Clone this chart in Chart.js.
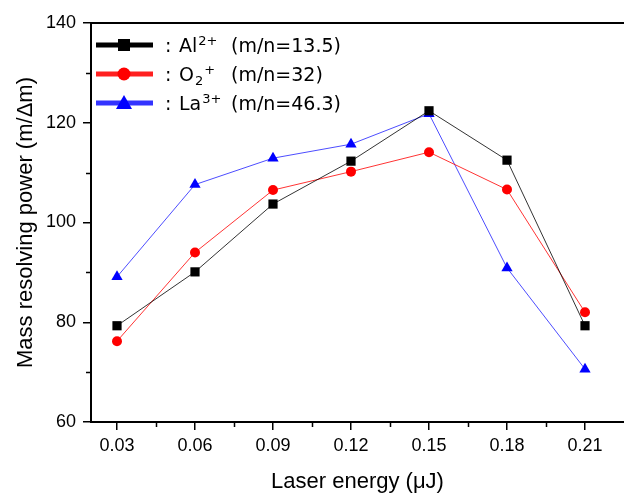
<!DOCTYPE html>
<html>
<head>
<meta charset="utf-8">
<script src="https://cdn.jsdelivr.net/npm/chart.js@4.4.1/dist/chart.umd.min.js"></script>
<style>
  body { margin: 0; background: #fff; }
  #c { display: block; }
</style>
</head>
<body>
<canvas id="c" width="624" height="495"></canvas>
<script>
// values
const energies = [0.03, 0.06, 0.09, 0.12, 0.15, 0.18, 0.21];
const alValues = [79.3, 90.1, 103.7, 112.3, 122.4, 112.5, 79.3];
const o2Values = [76.2, 94.0, 106.5, 110.2, 114.1, 106.6, 82.0];
const laValues = [89.1, 107.6, 112.9, 115.7, 121.8, 90.9, 70.6];

const xTicks = [0.03, 0.06, 0.09, 0.12, 0.15, 0.18, 0.21];
const xMinorTicks = [0.045, 0.075, 0.105, 0.135, 0.165, 0.195];
const yTicks = [60, 80, 100, 120, 140];
const yMinorTicks = [70, 90, 110, 130];

// legend parts: ion, subscript, superscript, m/n text
const ionNames = ['Al', 'O', 'La'];
const ionSubs = ['', '2', ''];
const ionSups = ['2+', '+', '3+'];
const massLabels = ['(m/n=13.5)', '(m/n=32)', '(m/n=46.3)'];

const toPoints = vals => energies.map((e, i) => ({ x: e, y: vals[i] }));

const axisFont = { family: 'Liberation Sans, Arial, sans-serif', size: 18 };
const titleFont = { family: 'Liberation Sans, Arial, sans-serif', size: 22 };

// minor ticks, top border and the legend with sub/superscripts
const extras = {
  id: 'extras',
  afterDraw(chart) {
    const ctx = chart.ctx;
    const { left, right, top, bottom } = chart.chartArea;
    const xs = chart.scales.x, ys = chart.scales.y;
    ctx.save();
    ctx.strokeStyle = '#000';
    ctx.lineWidth = 2;
    ctx.beginPath();
    ctx.moveTo(left - 1, top);
    ctx.lineTo(right, top);
    ctx.stroke();

    ctx.lineWidth = 1.5;
    ctx.beginPath();
    xMinorTicks.forEach(v => {
      const px = Math.round(xs.getPixelForValue(v)) + 0.5;
      ctx.moveTo(px, bottom);
      ctx.lineTo(px, bottom + 5);
    });
    yMinorTicks.forEach(v => {
      const py = Math.round(ys.getPixelForValue(v)) + 0.5;
      ctx.moveTo(left, py);
      ctx.lineTo(left - 5, py);
    });
    ctx.stroke();

    // legend
    const rowY = [45, 74, 103];
    const dsets = chart.data.datasets;
    rowY.forEach((y, i) => {
      const ds = dsets[i];
      ctx.strokeStyle = ds.legendColor;
      ctx.lineWidth = 5;
      ctx.beginPath();
      ctx.moveTo(96, y);
      ctx.lineTo(153, y);
      ctx.stroke();
      ctx.fillStyle = ds.pointBackgroundColor;
      const cx = 124;
      ctx.beginPath();
      if (ds.pointStyle === 'rect') {
        ctx.rect(cx - 6, y - 6, 12, 12);
      } else if (ds.pointStyle === 'circle') {
        ctx.arc(cx, y, 6.5, 0, Math.PI * 2);
      } else {
        ctx.moveTo(cx, y - 8);
        ctx.lineTo(cx + 8, y + 6);
        ctx.lineTo(cx - 8, y + 6);
        ctx.closePath();
      }
      ctx.fill();

      const base = y + 7;
      ctx.fillStyle = '#000';
      ctx.textBaseline = 'alphabetic';
      ctx.textAlign = 'left';
      ctx.font = '19px "DejaVu Sans"';
      ctx.fillText(':', 165, base);
      let tx = 179;
      ctx.fillText(ionNames[i], tx, base);
      tx += ctx.measureText(ionNames[i]).width + 1;
      ctx.font = '13px "DejaVu Sans"';
      let supX = tx;
      if (ionSubs[i]) {
        ctx.fillText(ionSubs[i], tx, base + 4);
        supX = tx + ctx.measureText(ionSubs[i]).width + 1;
      }
      ctx.fillText(ionSups[i], supX, base - 7);
      ctx.font = '19px "DejaVu Sans"';
      ctx.fillText(massLabels[i], 231, base);
    });
    ctx.restore();
  }
};

new Chart(document.getElementById('c'), {
  type: 'line',
  data: {
    datasets: [{
      label: 'Al2+ (m/n=13.5)',
      data: toPoints(alValues),
      borderColor: 'rgba(0,0,0,0.8)',
      legendColor: '#000',
      borderWidth: 1,
      pointStyle: 'rect',
      pointRadius: 6.5,
      pointBackgroundColor: '#000',
      pointBorderWidth: 0
    }, {
      label: 'O2+ (m/n=32)',
      data: toPoints(o2Values),
      borderColor: 'rgba(255,0,0,0.8)',
      legendColor: '#ff2020',
      borderWidth: 1,
      pointStyle: 'circle',
      pointRadius: 5,
      pointBackgroundColor: '#ff0000',
      pointBorderWidth: 0
    }, {
      label: 'La3+ (m/n=46.3)',
      data: toPoints(laValues),
      borderColor: 'rgba(0,0,255,0.7)',
      legendColor: '#3333ff',
      borderWidth: 1,
      pointStyle: 'triangle',
      pointRadius: 6.5,
      pointBackgroundColor: '#0000ff',
      pointBorderWidth: 0
    }]
  },
  options: {
    responsive: false,
    devicePixelRatio: 1,
    animation: false,
    layout: { autoPadding: false, padding: { top: 23, left: 0, right: 0, bottom: 0 } },
    plugins: { legend: { display: false }, tooltip: { enabled: false } },
    scales: {
      x: {
        type: 'linear',
        min: 0.02,
        max: 0.225,
        afterBuildTicks: s => { s.ticks = xTicks.map(v => ({ value: v })); },
        afterFit: s => { s.height = 73; s.paddingLeft = 0; s.paddingRight = 0; },
        ticks: {
          callback: v => v.toFixed(2),
          font: axisFont,
          color: '#000',
          padding: 5,
          maxRotation: 0,
          autoSkip: false
        },
        grid: { drawOnChartArea: false, tickLength: 8, color: '#000', lineWidth: 1.5 },
        border: { color: '#000', width: 2 },
        title: {
          display: true,
          text: 'Laser energy (μJ)',
          font: titleFont,
          color: '#000',
          padding: { top: 0, bottom: 0 }
        }
      },
      y: {
        min: 60,
        max: 140,
        afterBuildTicks: s => { s.ticks = yTicks.map(v => ({ value: v })); },
        afterFit: s => { s.width = 91; s.paddingTop = 0; s.paddingBottom = 0; },
        ticks: { font: axisFont, color: '#000', padding: 7 },
        grid: { drawOnChartArea: false, tickLength: 8, color: '#000', lineWidth: 1.5 },
        border: { color: '#000', width: 2 },
        title: {
          display: true,
          text: 'Mass resolving power (m/Δm)',
          font: titleFont,
          color: '#000',
          padding: { top: 13, bottom: 0 }
        }
      }
    }
  },
  plugins: [extras]
});
</script>
</body>
</html>
